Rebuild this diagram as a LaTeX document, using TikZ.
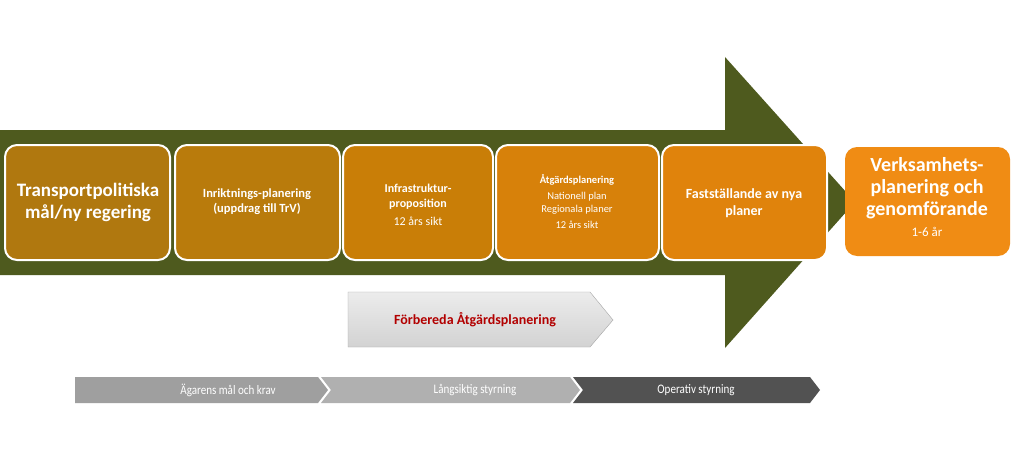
\documentclass[tikz,border=0pt]{standalone}
\usepackage{fontspec}
\setmainfont{Carlito}
\begin{document}
\begin{tikzpicture}[x=1pt,y=-1pt,
 bx/.style={draw=white,line width=2pt,rounded corners=12pt,text=white,align=center,font=\bfseries,inner sep=2pt},
 chev/.style={text=white,font=\fontsize{13}{15}\selectfont}]
\useasboundingbox (0,0) rectangle (1023,452);
\fill[white] (0,0) rectangle (1023,452);
\definecolor{grn}{HTML}{4E5A1E}
\fill[grn] (0,130) -- (725,130) -- (725,57) -- (855,202) -- (725,348) -- (725,275) -- (0,275) -- cycle;
\def\B#1#2#3#4#5{\definecolor{tmpc}{HTML}{#5}\path[bx,fill=tmpc] (#1,#3) rectangle (#2,#4);}
\B{5}{170}{145}{260}{B0780F}
\B{175}{340}{145}{260}{B97B0C}
\B{343}{493}{145}{260}{C97E07}
\B{496}{659}{145}{260}{D7810A}
\B{662}{827}{145}{260}{E0830C}
\definecolor{oc6}{HTML}{F08C14}
\path[rounded corners=12pt,fill=oc6] (845,147) rectangle (1010,256);
\node[text=white,align=center,font=\bfseries\fontsize{19}{22}\selectfont] (t1) at (88,202) {Transportpolitiska\\mål/ny regering};
\node[text=white,align=center,font=\bfseries\fontsize{12.5}{15}\selectfont] (t2) at (257,202) {Inriktnings-planering\\(uppdrag till TrV)};
\node[text=white,align=center,font=\fontsize{12}{15}\selectfont] (t3) at (418,205) {\textbf{Infrastruktur-}\\\textbf{proposition}\\[3pt]12 års sikt};
\node[text=white,align=center,font=\fontsize{10.5}{13}\selectfont] (t4) at (577,202) {\textbf{Åtgärdsplanering}\\[3pt]Nationell plan\\Regionala planer\\[3pt]12 års sikt};
\node[text=white,align=center,font=\bfseries\fontsize{14}{17}\selectfont] (t5) at (744,203) {Fastställande av nya\\planer};
\node[text=white,align=center,font=\fontsize{20}{22}\selectfont] (t6) at (927,197) {\textbf{Verksamhets-}\\\textbf{planering och}\\\textbf{genomförande}\\[-1pt]{\fontsize{13}{15}\selectfont 1-6 år}};
\path[draw=gray!70,top color=gray!15,bottom color=gray!35,middle color=gray!25] (348,292) -- (590,292) -- (613,320) -- (590,347) -- (348,347) -- cycle;
\node[text=red!70!black,font=\bfseries\fontsize{14}{16}\selectfont] (fa) at (475,320) {Förbereda Åtgärdsplanering};
\fill[gray!75] (75,377) -- (318,377) -- (328,390) -- (318,403) -- (75,403) -- cycle;
\fill[gray!62] (321,377) -- (570,377) -- (580,390) -- (570,403) -- (321,403) -- (331,390) -- cycle;
\fill[black!68] (573,377) -- (810,377) -- (820,390) -- (810,403) -- (573,403) -- (583,390) -- cycle;
\node[chev] (c1) at (228,390) {\scalebox{0.85}[1]{Ägarens mål och krav}};
\node[chev] (c2) at (475,390) {\scalebox{0.85}[1]{Långsiktig styrning}};
\node[chev] (c3) at (696,390) {\scalebox{0.85}[1]{Operativ styrning}};
\end{tikzpicture}
\end{document}
